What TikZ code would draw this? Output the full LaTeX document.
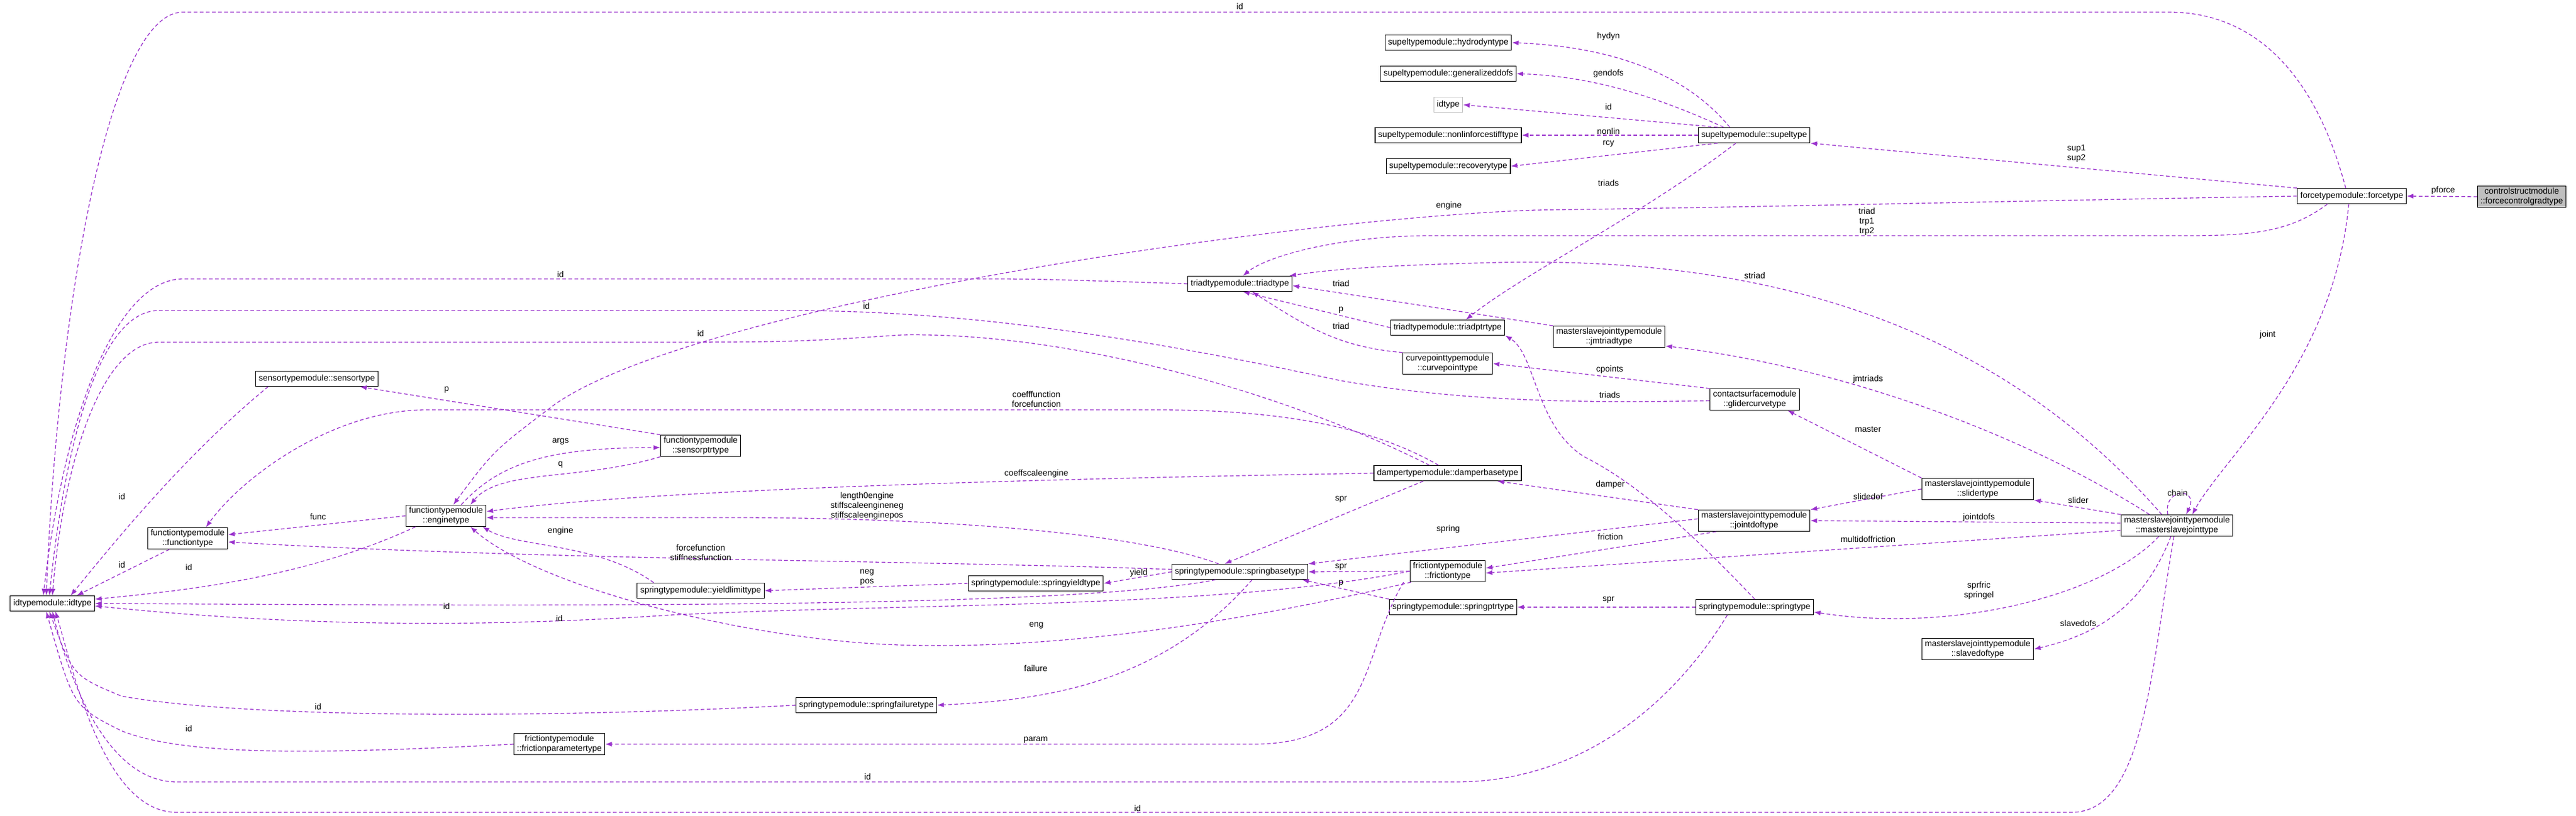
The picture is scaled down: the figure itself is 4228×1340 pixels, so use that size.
\documentclass[tikz,border=0pt]{standalone}
\usepackage{fontspec}
\setmainfont{Liberation Sans}
\usetikzlibrary{arrows.meta}
\definecolor{ec}{HTML}{9A32CD}
\newcommand{\fsz}{\fontsize{14}{16}\selectfont}
\begin{document}
\begin{tikzpicture}[x=1pt,y=-1pt,
 cls/.style={draw=black,line width=1.2pt,fill=white,inner xsep=5pt,inner ysep=3pt,minimum height=25pt,align=center,font=\fsz},
 e/.style={draw=ec,dash pattern=on 6pt off 4pt,line width=1.3pt,-{Latex[length=11pt,width=8pt]},fill=none},
 l/.style={font=\fsz,inner sep=0pt,align=center}]
\useasboundingbox (0,0) rectangle (4228,1340);
% nodes
\node[cls,fill={rgb,255:red,191;green,191;blue,191}] (fcg) at (4139,323) {controlstructmodule\\::forcecontrolgradtype};
\node[cls] (ft) at (3860,322) {forcetypemodule::forcetype};
\node[cls] (sup) at (2879,222) {supeltypemodule::supeltype};
\node[cls] (hyd) at (2377,70) {supeltypemodule::hydrodyntype};
\node[cls] (gen) at (2377,121) {supeltypemodule::generalizeddofs};
\node[cls,draw={rgb,255:red,191;green,191;blue,191}] (sid) at (2377,172) {idtype};
\node[cls] (nl) at (2377,222) {supeltypemodule::nonlinforcestifftype};
\node[cls] (rec) at (2377,273) {supeltypemodule::recoverytype};
\node[cls] (tri) at (2035,466) {triadtypemodule::triadtype};
\node[cls] (tptr) at (2376,538) {triadtypemodule::triadptrtype};
\node[cls] (jmt) at (2641,553) {masterslavejointtypemodule\\::jmtriadtype};
\node[cls] (cpt) at (2376,597) {curvepointtypemodule\\::curvepointtype};
\node[cls] (gli) at (2880,656) {contactsurfacemodule\\::glidercurvetype};
\node[cls] (sen) at (520,622) {sensortypemodule::sensortype};
\node[cls] (sptr) at (1150,732) {functiontypemodule\\::sensorptrtype};
\node[cls] (eng) at (732,847) {functiontypemodule\\::enginetype};
\node[cls] (fun) at (308,884) {functiontypemodule\\::functiontype};
\node[cls] (idt) at (86,991) {idtypemodule::idtype};
\node[cls] (dmp) at (2376,777) {dampertypemodule::damperbasetype};
\node[cls] (sbt) at (2035,939) {springtypemodule::springbasetype};
\node[cls] (syt) at (1700,958) {springtypemodule::springyieldtype};
\node[cls] (ylt) at (1150,970) {springtypemodule::yieldlimittype};
\node[cls] (sft) at (1422,1158) {springtypemodule::springfailuretype};
\node[cls] (frt) at (2376,938) {frictiontypemodule\\::frictiontype};
\node[cls] (spp) at (2385,997) {springtypemodule::springptrtype};
\node[cls] (fpt) at (918,1222) {frictiontypemodule\\::frictionparametertype};
\node[cls] (sld) at (3246,803) {masterslavejointtypemodule\\::slidertype};
\node[cls] (jdt) at (2879,855) {masterslavejointtypemodule\\::jointdoftype};
\node[cls] (msj) at (3573,863) {masterslavejointtypemodule\\::masterslavejointtype};
\node[cls] (spt) at (2880,997) {springtypemodule::springtype};
\node[cls] (sdt) at (3246,1066) {masterslavejointtypemodule\\::slavedoftype};
% edges
\draw[e] (fcg.west) -- (ft.east);
\draw[e] (ft.north west) -- (sup.south east);
\draw[e] ([xshift=-10pt]ft.north) .. controls (3800,120) and (3700,20) .. (3560,20) -- (300,20) .. controls (180,20) and (95,500) .. ([xshift=-10pt]idt.north);
\draw[e] (ft.west) .. controls (3300,330) and (2900,340) .. (2520,345) .. controls (2100,360) and (1150,500) .. (912,663) .. controls (810,740) .. ([xshift=12pt]eng.north);
\draw[e] ([xshift=-40pt]ft.south) .. controls (3760,380) and (3700,387) .. (3590,387) -- (2350,387) .. controls (2200,387) and (2080,420) .. ([xshift=5pt]tri.north);
\draw[e] ([xshift=-5pt]ft.south) .. controls (3830,600) and (3650,750) .. ([xshift=25pt]msj.north);
\draw[e] ([xshift=-40pt]sup.north) .. controls (2750,100) and (2600,75) .. (hyd.east);
\draw[e] ([xshift=-50pt]sup.north) .. controls (2700,150) and (2600,125) .. (gen.east);
\draw[e] ([xshift=-60pt]sup.north) -- (sid.east);
\draw[e] (sup.west) -- (nl.east);
\draw[e] ([xshift=-60pt]sup.south) -- (rec.east);
\draw[e] ([xshift=-30pt]sup.south) .. controls (2700,350) and (2500,450) .. ([xshift=30pt]tptr.north);
\draw[e] ([xshift=-25pt]msj.north) .. controls (3300,560) and (2950,420) .. (2460,431) .. controls (2300,435) and (2200,440) .. ([xshift=-5pt]tri.north east);
\draw[e] ([xshift=-45pt]msj.north) .. controls (3300,700) and (3000,600) .. ([yshift=3pt]jmt.south east);
\draw[e] (msj.north west) -- (sld.south east);
\draw[e] ([yshift=4pt]msj.west) -- (jdt.east);
\draw[e] ([yshift=-8pt]msj.west) -- ([yshift=-3pt]frt.east);
\draw[e] ([xshift=-30pt]msj.south) .. controls (3450,980) and (3200,1040) .. ([yshift=-8pt]spt.east);
\draw[e] ([xshift=-10pt]msj.south) .. controls (3520,990) and (3450,1040) .. (sdt.east);
\draw[e] ([xshift=-15pt]msj.north) .. controls (3550,800) and (3610,800) .. ([xshift=15pt]msj.north);
\draw[e] ([xshift=-5pt]msj.south) .. controls (3530,1100) and (3520,1334) .. (3400,1334) -- (290,1334) .. controls (170,1334) and (120,1100) .. ([xshift=5pt]idt.south);
\draw[e] (sld.north west) -- ([xshift=-20pt]gli.south east);
\draw[e] (sld.west) -- (jdt.north east);
\draw[e] (gli.north west) -- (cpt.east);
\draw[e] ([yshift=-2pt]gli.west) .. controls (2600,662) and (2400,660) .. (2200,625) .. controls (1900,560) and (1600,510) .. (1300,510) -- (260,510) .. controls (170,510) and (110,700) .. ([xshift=-5pt]idt.north);
\draw[e] ([xshift=-30pt]dmp.north) .. controls (2100,640) and (1750,545) .. (1480,550) .. controls (1300,562) .. (1000,562) -- (260,562) .. controls (170,562) and (105,750) .. ([xshift=0pt]idt.north);
\draw[e] ([xshift=-15pt]dmp.north) .. controls (2250,700) and (2100,673) .. (1900,673) -- (700,673) .. controls (550,673) and (400,780) .. ([xshift=30pt]fun.north);
\draw[e] (dmp.west) .. controls (1800,785) and (1100,800) .. ([yshift=7pt]eng.east);
\draw[e] ([xshift=-40pt]dmp.south) -- ([xshift=-25pt]sbt.north);
\draw[e] (jdt.north west) -- ([xshift=-40pt]dmp.south east);
\draw[e] ([yshift=3pt]jdt.west) -- (sbt.north east);
\draw[e] ([xshift=30pt]jdt.south west) -- ([yshift=5pt]frt.east);
\draw[e] (tri.west) .. controls (1700,458) .. (1600,458) -- (300,458) .. controls (200,458) and (110,650) .. ([xshift=-15pt]idt.north);
\draw[e] (jmt.north west) -- ([yshift=-3pt]tri.east);
\draw[e] (tptr.west) -- ([xshift=5pt]tri.south);
\draw[e] (cpt.north west) .. controls (2200,570) and (2150,540) .. ([xshift=20pt]tri.south);
\draw[e] (spt.north) .. controls (2800,900) and (2700,800) .. (2600,750) .. controls (2520,700) and (2520,580) .. (tptr.south east);
\draw[e] (spt.west) -- (spp.east);
\draw[e] (spp.north west) -- ([xshift=-10pt]sbt.south east);
\draw[e] (frt.west) -- (sbt.east);
\draw[e] ([xshift=-45pt]spt.south) .. controls (2750,1150) and (2600,1284) .. (2390,1284) -- (290,1284) .. controls (170,1284) and (110,1100) .. (idt.south);
\draw[e] ([xshift=-10pt]frt.south west) .. controls (2230,1080) and (2260,1222) .. (2056,1222) -- (fpt.east);
\draw[e] ([xshift=2pt]frt.south west) .. controls (2000,1030) and (1700,1070) .. (1450,1058) .. controls (1200,1045) and (880,960) .. ([xshift=40pt]eng.south);
\draw[e] (frt.west) .. controls (2000,1000) and (1500,990) .. (1100,1010) .. controls (800,1030) and (500,1030) .. ([yshift=-4pt]idt.east);
\draw[e] ([xshift=-40pt]sbt.south) .. controls (1750,1000) and (900,995) .. ([yshift=0pt]idt.east);
\draw[e] ([xshift=-35pt]sbt.north) .. controls (1850,870) and (1500,850) .. (1200,850) -- ([yshift=-3pt]eng.east);
\draw[e] ([yshift=4pt]sbt.west) .. controls (1500,920) and (900,920) .. ([yshift=-6pt]fun.east);
\draw[e] (sbt.west) -- (syt.east);
\draw[e] (syt.west) -- (ylt.east);
\draw[e] ([xshift=-77pt]ylt.north) .. controls (980,890) and (850,900) .. ([xshift=60pt]eng.south);
\draw[e] ([xshift=20pt]sbt.south) .. controls (1900,1130) and (1700,1150) .. (sft.east);
\draw[e] (sft.west) .. controls (900,1180) and (400,1180) .. (199,1143) .. controls (120,1110) .. ([xshift=-5pt]idt.south);
\draw[e] (fpt.west) .. controls (500,1240) and (300,1240) .. (199,1200) .. controls (120,1160) .. ([xshift=-10pt]idt.south);
\draw[e] ([xshift=-80pt]sen.south) .. controls (300,750) and (180,900) .. ([xshift=30pt]idt.north);
\draw[e] (sptr.north west) -- ([xshift=-30pt]sen.south east);
\draw[e] ([xshift=25pt]eng.north) .. controls (820,760) and (900,735) .. ([yshift=-3pt]sptr.west);
\draw[e] (sptr.south west) .. controls (950,790) and (820,770) .. ([xshift=40pt]eng.north);
\draw[e] (eng.west) -- ([yshift=6pt]fun.east);
\draw[e] ([xshift=-50pt]eng.south) .. controls (500,950) and (300,970) .. ([yshift=7pt]idt.east);
\draw[e] ([xshift=-30pt]fun.south) -- ([xshift=40pt]idt.north);
% labels
\node[l] (lpforce) at (4010,313) {pforce};
\node[l] (lsup) at (3408,252) {sup1\\sup2};
\node[l] (lid1) at (2035,10) {id};
\node[l] (lengine1) at (2378,338) {engine};
\node[l] (ltrp) at (3064,364) {triad\\trp1\\trp2};
\node[l] (ljoint) at (3722,550) {joint};
\node[l] (lhydyn) at (2640,60) {hydyn};
\node[l] (lgendofs) at (2640,121) {gendofs};
\node[l] (lid2) at (2640,175) {id};
\node[l] (lnonlin) at (2640,215) {nonlin};
\node[l] (lrcy) at (2640,236) {rcy};
\node[l] (ltriads1) at (2640,300) {triads};
\node[l] (lstriad) at (2880,452) {striad};
\node[l] (ljmtriads) at (3066,623) {jmtriads};
\node[l] (lslider) at (3411,821) {slider};
\node[l] (ljointdofs) at (3248,850) {jointdofs};
\node[l] (lmulti) at (3066,885) {multidoffriction};
\node[l] (lsprfric) at (3248,970) {sprfric\\springel};
\node[l] (lslavedofs) at (3411,1023) {slavedofs};
\node[l] (lchain) at (3574,809) {chain};
\node[l] (lmaster) at (3066,705) {master};
\node[l] (lslidedof) at (3066,815) {slidedof};
\node[l] (lcpoints) at (2642,607) {cpoints};
\node[l] (ltriads2) at (2642,648) {triads};
\node[l] (lid3) at (1422,502) {id};
\node[l] (lid4) at (1150,547) {id};
\node[l] (lcoef) at (1701,655) {coefffunction\\forcefunction};
\node[l] (lcse) at (1701,778) {coeffscaleengine};
\node[l] (lspr1) at (2201,820) {spr};
\node[l] (ldamper) at (2643,796) {damper};
\node[l] (lspring) at (2377,869) {spring};
\node[l] (lfriction) at (2643,881) {friction};
\node[l] (lid5) at (920,450) {id};
\node[l] (ltriad1) at (2201,465) {triad};
\node[l] (lp1) at (2201,509) {p};
\node[l] (ltriad2) at (2201,535) {triad};
\node[l] (lspr2) at (2640,985) {spr};
\node[l] (lp2) at (2201,958) {p};
\node[l] (lspr3) at (2201,931) {spr};
\node[l] (lid6) at (1424,1275) {id};
\node[l] (lparam) at (1700,1215) {param};
\node[l] (leng) at (1701,1027) {eng};
\node[l] (lid7) at (918,1015) {id};
\node[l] (lid8) at (733,995) {id};
\node[l] (llen) at (1423,831) {length0engine\\stiffscaleengineneg\\stiffscaleenginepos};
\node[l] (lff) at (1150,907) {forcefunction\\stiffnessfunction};
\node[l] (lyield) at (1869,941) {yield};
\node[l] (lneg) at (1423,948) {neg\\pos};
\node[l] (lengine2) at (920,872) {engine};
\node[l] (lfailure) at (1700,1097) {failure};
\node[l] (lid9) at (522,1160) {id};
\node[l] (lid10) at (310,1196) {id};
\node[l] (lid11) at (1867,1327) {id};
\node[l] (lid12) at (200,815) {id};
\node[l] (lp3) at (733,640) {p};
\node[l] (largs) at (920,725) {args};
\node[l] (lq) at (920,763) {q};
\node[l] (lfunc) at (522,848) {func};
\node[l] (lid13) at (310,931) {id};
\node[l] (lid14) at (200,927) {id};
\end{tikzpicture}
\end{document}
